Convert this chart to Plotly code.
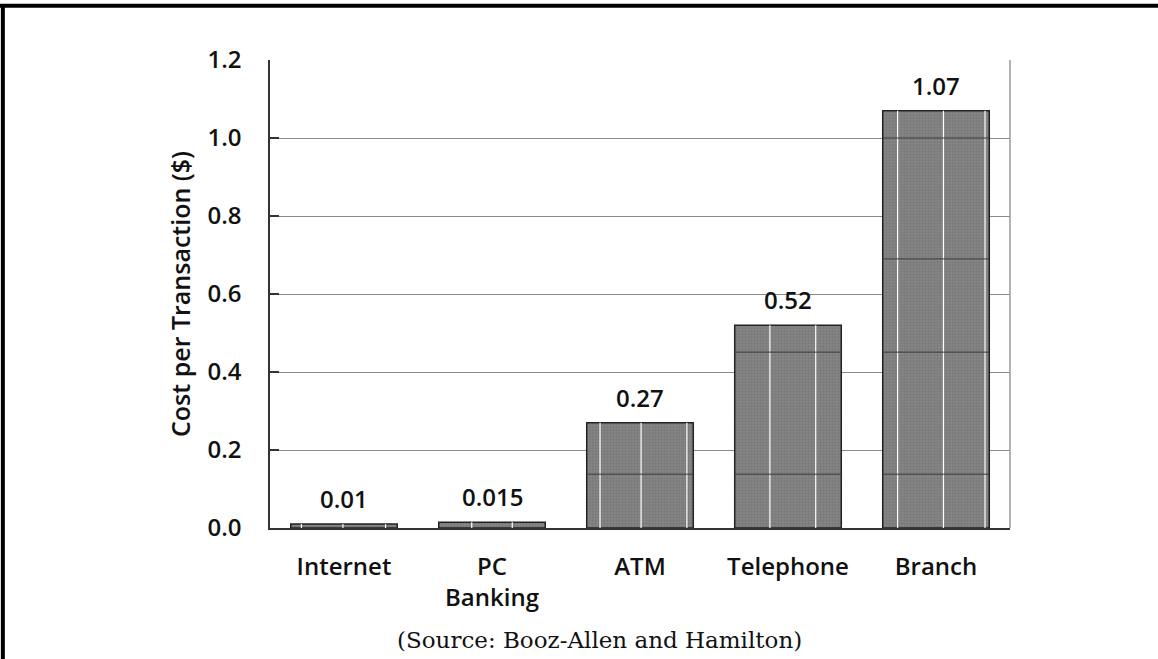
import plotly.graph_objects as go

# Cost per banking transaction by delivery channel
channels = ["Internet", "PC<br>Banking", "ATM", "Telephone", "Branch"]
costs = [0.01, 0.015, 0.27, 0.52, 1.07]
value_labels = ["0.01", "0.015", "0.27", "0.52", "1.07"]
y_ticks = [0.0, 0.2, 0.4, 0.6, 0.8, 1.0, 1.2]
y_tick_text = ["0.0", "0.2", "0.4", "0.6", "0.8", "1.0", "1.2"]

# faint streaks in the bar fill (fractions of each bar's width) and
# the levels at which darker rules run across the fill
streak_fracs = [[0.10, 0.49, 0.89], [0.31, 0.69], [0.125, 0.51, 0.94],
                [0.33, 0.76], [0.14, 0.57, 0.96]]
rule_levels = [0.138, 0.451, 0.69, 1.0]

BAR_W = 0.72
label_font = dict(family="Open Sans", size=24, color="#111111", weight=600)

fig = go.Figure(
    go.Bar(
        x=list(range(len(channels))),
        y=costs,
        width=BAR_W,
        marker=dict(
            color="#7a7a7a",
            line=dict(color="#222222", width=1.5),
            pattern=dict(shape=".", size=3, solidity=0.45,
                         fgcolor="#6a6a6a", bgcolor="#868686"),
        ),
        hoverinfo="skip",
    )
)

for i, (v, t) in enumerate(zip(costs, value_labels)):
    left = i - BAR_W / 2
    # value label above the bar
    fig.add_annotation(x=i, y=v, text=t, showarrow=False, yanchor="bottom",
                       yshift=7, font=label_font)
    # light vertical streaks through the fill
    for f in streak_fracs[i]:
        fig.add_shape(type="line", xref="x", yref="y",
                      x0=left + f * BAR_W, x1=left + f * BAR_W, y0=0, y1=v,
                      line=dict(color="white", width=1.2))
    # darker horizontal rules through the fill
    for lv in rule_levels:
        if lv < v:
            fig.add_shape(type="line", xref="x", yref="y", x0=left, x1=left + BAR_W,
                          y0=lv, y1=lv, line=dict(color="#3a3a3a", width=1))

# source note under the chart
fig.add_annotation(xref="paper", yref="paper", x=(599 - 270) / 740, y=-(640 - 528) / 468,
                   text="(Source: Booz-Allen and Hamilton)", showarrow=False,
                   xanchor="center", yanchor="middle",
                   font=dict(family="DejaVu Serif", size=23, color="#111111"))

# surrounding frame (top and left rules) and right border of plot area
fig.add_shape(type="line", xref="paper", yref="paper", x0=-0.4, x1=1.25,
              y0=1.116, y1=1.116, line=dict(color="black", width=4))
fig.add_shape(type="line", xref="paper", yref="paper", x0=-0.361, x1=-0.361,
              y0=-0.3, y1=1.116, line=dict(color="black", width=4))
fig.add_shape(type="line", xref="paper", yref="paper", x0=1, x1=1,
              y0=0, y1=1, line=dict(color="#999999", width=1.5))

fig.update_layout(
    width=1158, height=659,
    margin=dict(l=270, r=148, t=60, b=131),
    paper_bgcolor="white", plot_bgcolor="white",
    showlegend=False,
    xaxis=dict(
        range=[-0.5, len(channels) - 0.5],
        tickvals=list(range(len(channels))), ticktext=channels,
        showgrid=False, showline=True, linecolor="#333333", linewidth=1.5,
        ticks="", tickfont=dict(family="Open Sans", size=24, color="#111111", weight=600),
        ticklabelstandoff=16,
    ),
    yaxis=dict(
        range=[0, 1.2], tickvals=y_ticks, ticktext=y_tick_text,
        showgrid=True, gridcolor="#8a8a8a", gridwidth=1,
        showline=True, linecolor="#333333", linewidth=1.5,
        ticks="inside", ticklen=9, tickcolor="#333333", tickwidth=1.5,
        ticklabelstandoff=22,
        tickfont=label_font,
        zeroline=False,
        title=dict(text="Cost per Transaction ($)", standoff=10,
                   font=dict(family="Open Sans", size=25, color="#111111", weight=600)),
    ),
)

fig.write_html("out.html")
